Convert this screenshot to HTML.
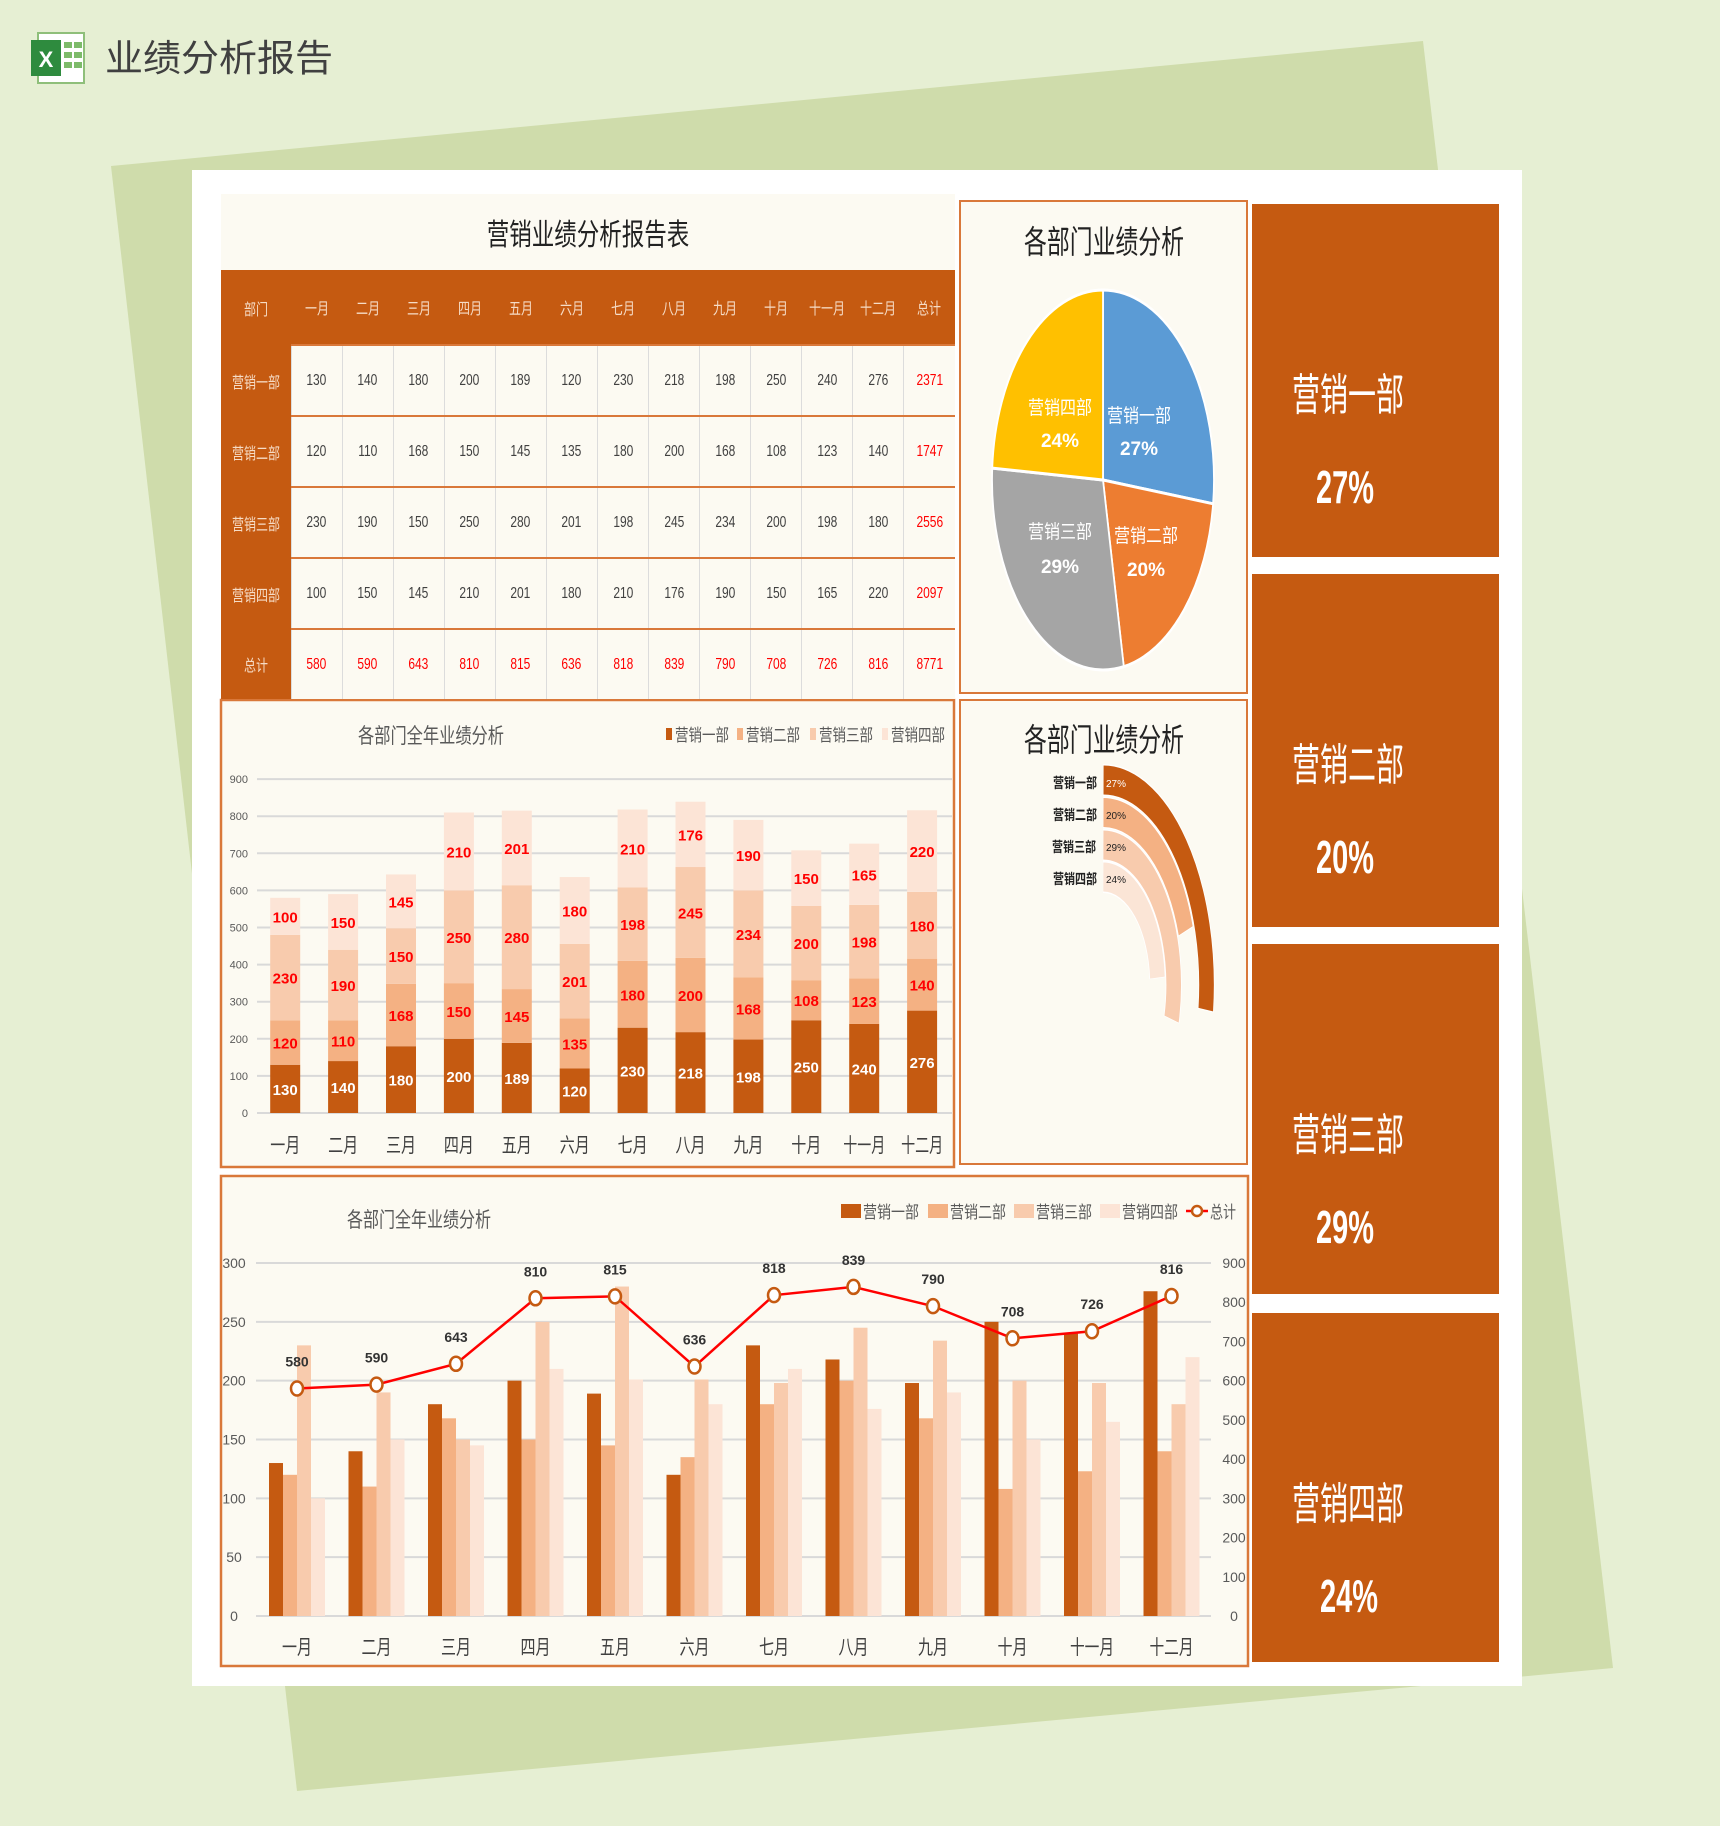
<!DOCTYPE html>
<html><head><meta charset="utf-8">
<style>
html,body{margin:0;padding:0;}
body{width:1720px;height:1826px;position:relative;overflow:hidden;background:#e6efd3;font-family:"Liberation Sans Narrow","Liberation Sans","Noto Sans CJK SC",sans-serif;}
#tbl{position:absolute;left:221px;top:194px;width:734px;border-collapse:collapse;table-layout:fixed;font-family:"Liberation Sans Narrow","Liberation Sans","Noto Sans CJK SC",sans-serif;}
#tbl td{text-align:center;font-size:16px;padding:0;color:#404040;white-space:nowrap;}
#tbl td span{display:inline-block;transform:scaleX(0.75);}
#tbl .t{height:76px;background:#fcfaf2;font-size:30px;color:#222;}
#tbl .h td{height:74px;background:#c55a11;color:#f6dcc6;}
#tbl .r td{height:69px;background:#fcfaf2;border-left:1px solid #dcdcdc;border-top:2px solid #d9783a;}
#tbl .r td.f{background:#c55a11;color:#f6dcc6;border-top:none;border-left:none;}
#tbl .r td.red{color:#ff0000;}
</style></head><body>
<svg id="s" width="1720" height="1826" style="position:absolute;left:0;top:0" xmlns="http://www.w3.org/2000/svg">
<polygon points="111,166 1423,41 1613,1668 297,1791" fill="#cfdcab"/>
<rect x="192" y="170" width="1330" height="1516" fill="#ffffff"/>
<rect x="38" y="33" width="46" height="50" fill="#fff" stroke="#8fbf7a" stroke-width="2"/>
<rect x="31" y="40" width="30" height="36" fill="#2e8b3e"/>
<text x="46" y="67" font-size="22" font-weight="bold" fill="#fff" text-anchor="middle" font-family="Liberation Sans">X</text>
<g fill="#7dbb6a"><rect x="64" y="42" width="8" height="6"/><rect x="74" y="42" width="8" height="6"/><rect x="64" y="52" width="8" height="6"/><rect x="74" y="52" width="8" height="6"/><rect x="64" y="62" width="8" height="6"/><rect x="74" y="62" width="8" height="6"/></g>
<text x="105" y="71" font-size="37" fill="#404040" textLength="228" lengthAdjust="spacingAndGlyphs">业绩分析报告</text>
<rect x="960" y="201" width="287" height="492" fill="#fcfaf2" stroke="#d9783a" stroke-width="2"/>
<rect x="221" y="700" width="733" height="467" fill="#fcfaf2" stroke="#d9783a" stroke-width="2.5"/>
<rect x="960" y="700" width="287" height="464" fill="#fcfaf2" stroke="#d9783a" stroke-width="2"/>
<rect x="221" y="1176" width="1027" height="490" fill="#fcfaf2" stroke="#d9783a" stroke-width="2.5"/>
<text x="1024" y="253" font-size="32" fill="#222" textLength="160" lengthAdjust="spacingAndGlyphs">各部门业绩分析</text>
<text x="1024" y="751" font-size="32" fill="#222" textLength="160" lengthAdjust="spacingAndGlyphs">各部门业绩分析</text>
<text x="358" y="743" font-size="21" fill="#595959" textLength="146" lengthAdjust="spacingAndGlyphs">各部门全年业绩分析</text>
<text x="347" y="1227" font-size="21" fill="#595959" textLength="144" lengthAdjust="spacingAndGlyphs">各部门全年业绩分析</text>
<g id="dyn"></g>
<g font-size="19" fill="#fff" text-anchor="middle">
<text x="1060" y="414" textLength="64" lengthAdjust="spacingAndGlyphs">营销四部</text><text x="1060" y="447" font-weight="bold">24%</text>
<text x="1139" y="422" textLength="64" lengthAdjust="spacingAndGlyphs">营销一部</text><text x="1139" y="455" font-weight="bold">27%</text>
<text x="1060" y="538" textLength="64" lengthAdjust="spacingAndGlyphs">营销三部</text><text x="1060" y="573" font-weight="bold">29%</text>
<text x="1146" y="542" textLength="64" lengthAdjust="spacingAndGlyphs">营销二部</text><text x="1146" y="576" font-weight="bold">20%</text>
</g>
<g font-size="14" fill="#222" text-anchor="middle" font-weight="bold">
<text x="1075" y="788" textLength="44" lengthAdjust="spacingAndGlyphs">营销一部</text><text x="1075" y="820" textLength="44" lengthAdjust="spacingAndGlyphs">营销二部</text><text x="1074" y="852" textLength="44" lengthAdjust="spacingAndGlyphs">营销三部</text><text x="1075" y="884" textLength="44" lengthAdjust="spacingAndGlyphs">营销四部</text>
</g>
<g font-size="10" fill="#222" text-anchor="middle">
<text x="1116" y="787" fill="#fff">27%</text><text x="1116" y="819">20%</text><text x="1116" y="851">29%</text><text x="1116" y="883">24%</text>
</g>
<g font-size="17" fill="#595959">
<rect x="666" y="728" width="6" height="12" fill="#c55a11"/><text x="675" y="741" textLength="54" lengthAdjust="spacingAndGlyphs">营销一部</text>
<rect x="737" y="728" width="6" height="12" fill="#f4b183"/><text x="746" y="741" textLength="54" lengthAdjust="spacingAndGlyphs">营销二部</text>
<rect x="810" y="728" width="6" height="12" fill="#f8cbad"/><text x="819" y="741" textLength="54" lengthAdjust="spacingAndGlyphs">营销三部</text>
<rect x="882" y="728" width="6" height="12" fill="#fce4d6"/><text x="891" y="741" textLength="54" lengthAdjust="spacingAndGlyphs">营销四部</text>
</g>
<g font-size="17" fill="#595959">
<rect x="841" y="1204" width="20" height="14" fill="#c55a11"/><text x="863" y="1218" textLength="56" lengthAdjust="spacingAndGlyphs">营销一部</text>
<rect x="928" y="1204" width="20" height="14" fill="#f4b183"/><text x="950" y="1218" textLength="56" lengthAdjust="spacingAndGlyphs">营销二部</text>
<rect x="1014" y="1204" width="20" height="14" fill="#f8cbad"/><text x="1036" y="1218" textLength="56" lengthAdjust="spacingAndGlyphs">营销三部</text>
<rect x="1100" y="1204" width="20" height="14" fill="#fce4d6"/><text x="1122" y="1218" textLength="56" lengthAdjust="spacingAndGlyphs">营销四部</text>
<line x1="1186" y1="1211" x2="1208" y2="1211" stroke="#ff0000" stroke-width="2.5"/><circle cx="1197" cy="1211" r="5" fill="#fff" stroke="#c55a11" stroke-width="2.5"/><text x="1210" y="1218" textLength="26" lengthAdjust="spacingAndGlyphs">总计</text>
</g>
<g fill="#fff" text-anchor="middle">
<rect x="1252" y="204" width="247" height="353" fill="#c55a11"/>
<rect x="1252" y="574" width="247" height="353" fill="#c55a11"/>
<rect x="1252" y="944" width="247" height="350" fill="#c55a11"/>
<rect x="1252" y="1313" width="247" height="349" fill="#c55a11"/>
<text x="1348" y="410" font-size="44" textLength="112" lengthAdjust="spacingAndGlyphs">营销一部</text><text x="1345" y="503" font-size="46" font-weight="bold" textLength="58" lengthAdjust="spacingAndGlyphs">27%</text>
<text x="1348" y="780" font-size="44" textLength="112" lengthAdjust="spacingAndGlyphs">营销二部</text><text x="1345" y="873" font-size="46" font-weight="bold" textLength="58" lengthAdjust="spacingAndGlyphs">20%</text>
<text x="1348" y="1150" font-size="44" textLength="112" lengthAdjust="spacingAndGlyphs">营销三部</text><text x="1345" y="1243" font-size="46" font-weight="bold" textLength="58" lengthAdjust="spacingAndGlyphs">29%</text>
<text x="1348" y="1519" font-size="44" textLength="112" lengthAdjust="spacingAndGlyphs">营销四部</text><text x="1349" y="1612" font-size="46" font-weight="bold" textLength="58" lengthAdjust="spacingAndGlyphs">24%</text>
</g>
</svg>

<table id="tbl">
<colgroup><col style="width:70px"><col span="13"></colgroup>
<tr><td class="t" colspan="14"><span>营销业绩分析报告表</span></td></tr>
<tr class="h"><td><span>部门</span></td><td><span>一月</span></td><td><span>二月</span></td><td><span>三月</span></td><td><span>四月</span></td><td><span>五月</span></td><td><span>六月</span></td><td><span>七月</span></td><td><span>八月</span></td><td><span>九月</span></td><td><span>十月</span></td><td><span>十一月</span></td><td><span>十二月</span></td><td><span>总计</span></td></tr>
<tr class="r"><td class="f"><span>营销一部</span></td><td><span>130</span></td><td><span>140</span></td><td><span>180</span></td><td><span>200</span></td><td><span>189</span></td><td><span>120</span></td><td><span>230</span></td><td><span>218</span></td><td><span>198</span></td><td><span>250</span></td><td><span>240</span></td><td><span>276</span></td><td class="red"><span>2371</span></td></tr>
<tr class="r"><td class="f"><span>营销二部</span></td><td><span>120</span></td><td><span>110</span></td><td><span>168</span></td><td><span>150</span></td><td><span>145</span></td><td><span>135</span></td><td><span>180</span></td><td><span>200</span></td><td><span>168</span></td><td><span>108</span></td><td><span>123</span></td><td><span>140</span></td><td class="red"><span>1747</span></td></tr>
<tr class="r"><td class="f"><span>营销三部</span></td><td><span>230</span></td><td><span>190</span></td><td><span>150</span></td><td><span>250</span></td><td><span>280</span></td><td><span>201</span></td><td><span>198</span></td><td><span>245</span></td><td><span>234</span></td><td><span>200</span></td><td><span>198</span></td><td><span>180</span></td><td class="red"><span>2556</span></td></tr>
<tr class="r"><td class="f"><span>营销四部</span></td><td><span>100</span></td><td><span>150</span></td><td><span>145</span></td><td><span>210</span></td><td><span>201</span></td><td><span>180</span></td><td><span>210</span></td><td><span>176</span></td><td><span>190</span></td><td><span>150</span></td><td><span>165</span></td><td><span>220</span></td><td class="red"><span>2097</span></td></tr>
<tr class="r"><td class="f"><span>总计</span></td><td class="red"><span>580</span></td><td class="red"><span>590</span></td><td class="red"><span>643</span></td><td class="red"><span>810</span></td><td class="red"><span>815</span></td><td class="red"><span>636</span></td><td class="red"><span>818</span></td><td class="red"><span>839</span></td><td class="red"><span>790</span></td><td class="red"><span>708</span></td><td class="red"><span>726</span></td><td class="red"><span>816</span></td><td class="red"><span>8771</span></td></tr>
</table>

<script>
var D=[[130,140,180,200,189,120,230,218,198,250,240,276],[120,110,168,150,145,135,180,200,168,108,123,140],[230,190,150,250,280,201,198,245,234,200,198,180],[100,150,145,210,201,180,210,176,190,150,165,220]];
var T=[580,590,643,810,815,636,818,839,790,708,726,816];
var M=["一月","二月","三月","四月","五月","六月","七月","八月","九月","十月","十一月","十二月"];
var C=["#c55a11","#f4b183","#f8cbad","#fce4d6"];
var h="";
function arc(r,a0,a1){var p=Math.PI/180;var x0=r*Math.sin(a0*p),y0=-r*Math.cos(a0*p),x1=r*Math.sin(a1*p),y1=-r*Math.cos(a1*p);return "M"+x0+","+y0+" A"+r+","+r+" 0 "+((a1-a0)>180?1:0)+" 1 "+x1+","+y1;}
h+='<g transform="translate(1103,480) scale(0.584,1)">';
var pc=["#5b9bd5","#ed7d31","#a5a5a5","#ffc000"],pf=[27,20,29,24],a=0;
for(var i=0;i<4;i++){var a1=a+pf[i]*3.6,p=Math.PI/180,r=190;
h+='<path d="M0,0 L'+r*Math.sin(a*p)+','+(-r*Math.cos(a*p))+' A190,190 0 0 1 '+r*Math.sin(a1*p)+','+(-r*Math.cos(a1*p))+' Z" fill="'+pc[i]+'" stroke="#fff" stroke-width="3"/>';a=a1;}
h+='</g>';
h+='<g transform="translate(1103,985) scale(0.505,1)" fill="none">';
var rr=[205,172.5,140,108],rc=["#c55a11","#f4b183","#f8cbad","#fbe5d6"];
for(i=0;i<4;i++){h+='<path d="'+arc(rr[i],0,pf[i]*3.6)+'" stroke="#fff" stroke-width="32"/><path d="'+arc(rr[i],0.3,pf[i]*3.6-0.3)+'" stroke="'+rc[i]+'" stroke-width="29"/>';}
h+='</g>';
var ct=[204,574,944,1313];
for(i=0;i<4;i++){h+='<g transform="translate(1381,'+(ct[i]+204)+') scale(0.508,1)" fill="none"><path d="'+arc(170,0,pf[i]*3.6)+'" stroke="#fff" stroke-width="27"/><path d="'+arc(170,0.5,pf[i]*3.6-0.5)+'" stroke="#c9b536" stroke-width="22"/></g>';}
function ml(s){return s.length>2?42:30;}
for(var v=0;v<=900;v+=100){var y=1113-v*0.371;h+='<line x1="257" x2="952" y1="'+y+'" y2="'+y+'" stroke="#d9d9d9" stroke-width="2"/><text x="248" y="'+(y+4)+'" font-size="11" fill="#595959" text-anchor="end">'+v+'</text>';}
for(var m=0;m<12;m++){var cx=285.2+m*57.9,base=1113;
 for(var k=0;k<4;k++){var ht=D[k][m]*0.371;h+='<rect x="'+(cx-15)+'" y="'+(base-ht)+'" width="30" height="'+ht+'" fill="'+C[k]+'"/>';
 h+='<text x="'+cx+'" y="'+(base-ht/2+6)+'" font-size="15" font-weight="bold" fill="'+(k==0?"#fff":"#ff0000")+'" text-anchor="middle">'+D[k][m]+'</text>';base-=ht;}
 h+='<text x="'+cx+'" y="1152" font-size="20" fill="#404040" text-anchor="middle" textLength="'+ml(M[m])+'" lengthAdjust="spacingAndGlyphs">'+M[m]+'</text>';}
for(v=0;v<=300;v+=50){y=1616-v*353/300;h+='<line x1="256" x2="1211" y1="'+y+'" y2="'+y+'" stroke="#d9d9d9" stroke-width="2"/><text x="234" y="'+(y+5)+'" font-size="14" fill="#595959" text-anchor="middle">'+v+'</text>';}
for(v=0;v<=900;v+=100){y=1616-v*353/900;h+='<text x="1234" y="'+(y+5)+'" font-size="14" fill="#595959" text-anchor="middle">'+v+'</text>';}
var pts=[];
for(m=0;m<12;m++){var c=297+m*79.5;
 for(k=0;k<4;k++){ht=D[k][m]*353/300;h+='<rect x="'+(c-28+k*14)+'" y="'+(1616-ht)+'" width="14" height="'+ht+'" fill="'+C[k]+'"/>';}
 pts.push([c,1616-T[m]*353/900]);
 h+='<text x="'+c+'" y="1654" font-size="20" fill="#404040" text-anchor="middle" textLength="'+(M[m].length>2?44:30)+'" lengthAdjust="spacingAndGlyphs">'+M[m]+'</text>';}
h+='<polyline points="'+pts.map(function(p){return p.join(",")}).join(" ")+'" fill="none" stroke="#ff0000" stroke-width="2.5"/>';
for(m=0;m<12;m++){h+='<ellipse cx="'+pts[m][0]+'" cy="'+pts[m][1]+'" rx="6" ry="7" fill="#fff" stroke="#c55a11" stroke-width="2.5"/><text x="'+pts[m][0]+'" y="'+(pts[m][1]-22)+'" font-size="14" font-weight="bold" fill="#333" text-anchor="middle">'+T[m]+'</text>';}
document.getElementById("dyn").innerHTML=h;
</script>
</body></html>
